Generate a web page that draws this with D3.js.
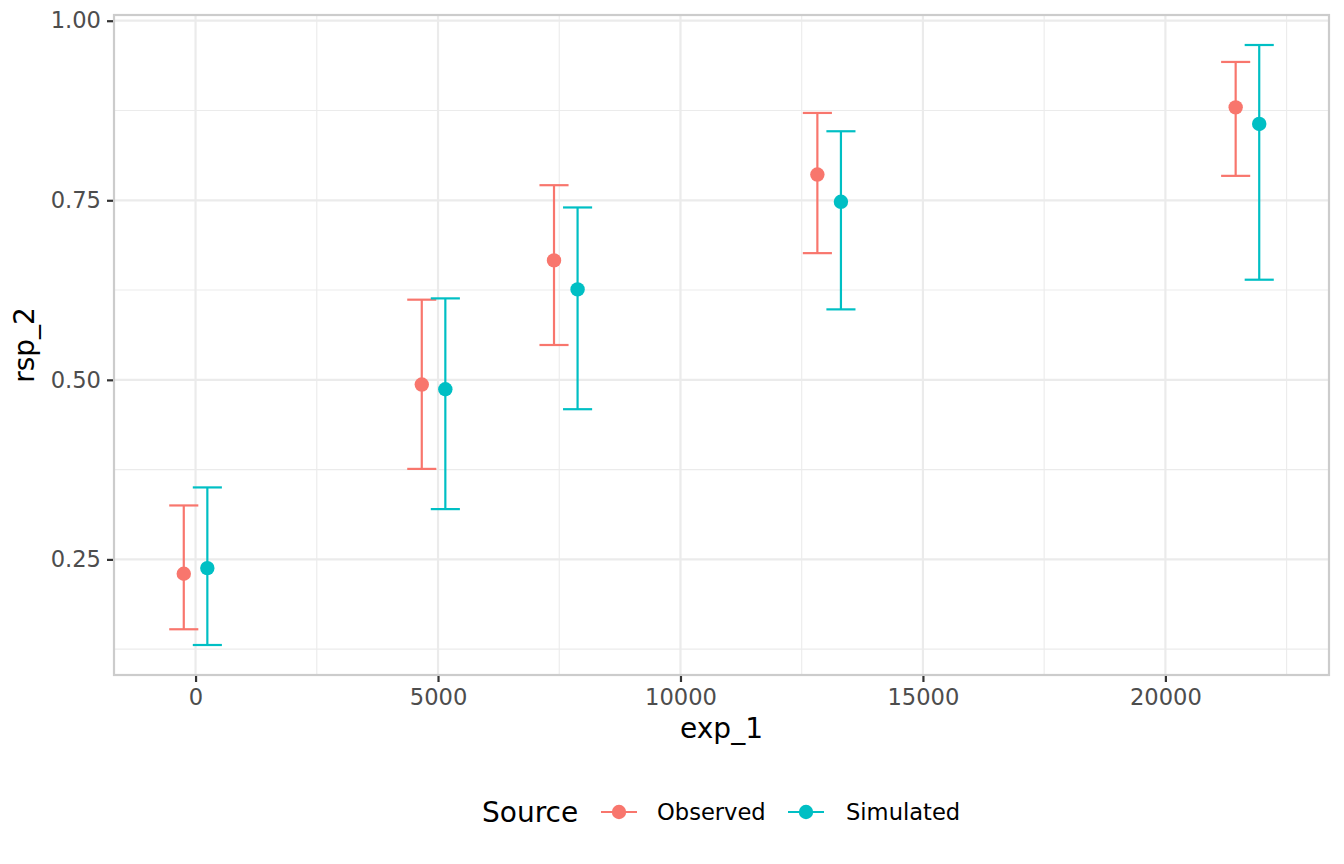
<!DOCTYPE html>
<html>
<head>
<meta charset="utf-8">
<script src="https://cdn.jsdelivr.net/npm/d3@7"></script>
<style>
  html, body { margin: 0; padding: 0; background: #ffffff; }
  svg { display: block; font-family: "DejaVu Sans", sans-serif; }
</style>
</head>
<body>
<svg id="chart" width="1344" height="864"></svg>
<script>
// ---- Data ----
const xCenters = [0, 4908, 7635, 13066, 21692];
const sources = ["Observed", "Simulated"];
const obsMean = [0.2300, 0.4934, 0.6663, 0.7858, 0.8794];
const obsLow  = [0.1527, 0.3760, 0.5485, 0.6764, 0.7840];
const obsHigh = [0.3251, 0.6116, 0.7710, 0.8716, 0.9426];
const simMean = [0.2379, 0.4869, 0.6259, 0.7479, 0.8563];
const simLow  = [0.1308, 0.3200, 0.4591, 0.5981, 0.6394];
const simHigh = [0.3502, 0.6134, 0.7400, 0.8461, 0.9662];
const xTicks = [0, 5000, 10000, 15000, 20000];
const xMinor = [2500, 7500, 12500, 17500, 22500];
const yTicks = [0.25, 0.50, 0.75, 1.00];
const yMinor = [0.125, 0.375, 0.625, 0.875];
const colors = ["#F8766D", "#00BFC4"];

// dodge and cap half-width, in x data units
const dodge = 243;
const capHalf = 300;

const rows = [];
xCenters.forEach((x, i) => {
  rows.push({src: 0, x: x - dodge, m: obsMean[i], lo: obsLow[i], hi: obsHigh[i]});
  rows.push({src: 1, x: x + dodge, m: simMean[i], lo: simLow[i], hi: simHigh[i]});
});

// ---- Layout ----
const P = {left: 114, right: 1329, top: 15, bottom: 675};
const svg = d3.select("#chart");

const xmin = d3.min(rows, d => d.x - capHalf), xmax = d3.max(rows, d => d.x + capHalf);
const ymin = d3.min(rows, d => d.lo), ymax = d3.max(rows, d => d.hi);
const xe = (xmax - xmin) * 0.05, ye = (ymax - ymin) * 0.05;
const x = d3.scaleLinear().domain([xmin - xe, xmax + xe]).range([P.left, P.right]);
const y = d3.scaleLinear().domain([ymin - ye, ymax + ye]).range([P.bottom, P.top]);

// grid
const g = svg.append("g");
g.selectAll(".xminor").data(xMinor.filter(v => x(v) > P.left && x(v) < P.right)).enter().append("line")
  .attr("x1", d => x(d)).attr("x2", d => x(d)).attr("y1", P.top).attr("y2", P.bottom)
  .attr("stroke", "#EBEBEB").attr("stroke-width", 1.1);
g.selectAll(".yminor").data(yMinor).enter().append("line")
  .attr("y1", d => y(d)).attr("y2", d => y(d)).attr("x1", P.left).attr("x2", P.right)
  .attr("stroke", "#EBEBEB").attr("stroke-width", 1.1);
g.selectAll(".xmajor").data(xTicks).enter().append("line")
  .attr("x1", d => x(d)).attr("x2", d => x(d)).attr("y1", P.top).attr("y2", P.bottom)
  .attr("stroke", "#EBEBEB").attr("stroke-width", 2.2);
g.selectAll(".ymajor").data(yTicks).enter().append("line")
  .attr("y1", d => y(d)).attr("y2", d => y(d)).attr("x1", P.left).attr("x2", P.right)
  .attr("stroke", "#EBEBEB").attr("stroke-width", 2.2);

// error bars
const eb = svg.append("g");
rows.forEach(r => {
  const c = colors[r.src];
  eb.append("line").attr("x1", x(r.x)).attr("x2", x(r.x)).attr("y1", y(r.lo)).attr("y2", y(r.hi))
    .attr("stroke", c).attr("stroke-width", 2.2);
  [r.lo, r.hi].forEach(v => {
    eb.append("line").attr("x1", x(r.x - capHalf)).attr("x2", x(r.x + capHalf)).attr("y1", y(v)).attr("y2", y(v))
      .attr("stroke", c).attr("stroke-width", 2.2);
  });
});
// points
svg.append("g").selectAll("circle").data(rows).enter().append("circle")
  .attr("cx", d => x(d.x)).attr("cy", d => y(d.m)).attr("r", 7.2)
  .attr("fill", d => colors[d.src]);

// border
svg.append("rect").attr("x", P.left).attr("y", P.top)
  .attr("width", P.right - P.left).attr("height", P.bottom - P.top)
  .attr("fill", "none").attr("stroke", "#CCCCCC").attr("stroke-width", 2.2);

// axes
const xAxis = d3.axisBottom(x).tickValues(xTicks).tickFormat(d3.format("d")).tickSizeInner(6).tickSizeOuter(0).tickPadding(7);
const xg = svg.append("g").attr("transform", `translate(0,${P.bottom + 1})`).call(xAxis);
const yAxis = d3.axisLeft(y).tickValues(yTicks).tickFormat(d3.format(".2f")).tickSizeInner(6).tickSizeOuter(0).tickPadding(6);
const yg = svg.append("g").attr("transform", `translate(${P.left - 1},0)`).call(yAxis);
[xg, yg].forEach(a => {
  a.select(".domain").remove();
  a.selectAll(".tick line").attr("stroke", "#333333").attr("stroke-width", 2.2);
  a.selectAll(".tick text").attr("fill", "#4D4D4D").style("font-size", "22.6px")
    .style("font-family", "DejaVu Sans, sans-serif");
});

// axis titles
svg.append("text").attr("x", (P.left + P.right) / 2).attr("y", 738).attr("text-anchor", "middle")
  .style("font-size", "28px").attr("fill", "#000").text("exp_1");
svg.append("text").attr("transform", `translate(34,${(P.top + P.bottom) / 2}) rotate(-90)`)
  .attr("text-anchor", "middle").style("font-size", "28px").attr("fill", "#000").text("rsp_2");

// legend
const ly = 812;
const leg = svg.append("g");
leg.append("text").attr("x", 482).attr("y", ly).attr("dy", "0.36em")
  .style("font-size", "28px").attr("fill", "#000").text("Source");
const keyX = [601, 788];
const labX = [657, 846];
sources.forEach((s, i) => {
  leg.append("line").attr("x1", keyX[i]).attr("x2", keyX[i] + 36).attr("y1", ly).attr("y2", ly)
    .attr("stroke", colors[i]).attr("stroke-width", 2.2);
  leg.append("circle").attr("cx", keyX[i] + 18).attr("cy", ly).attr("r", 7.2).attr("fill", colors[i]);
  leg.append("text").attr("x", labX[i]).attr("y", ly).attr("dy", "0.36em")
    .style("font-size", "22.6px").attr("fill", "#000").text(s);
});
</script>
</body>
</html>
